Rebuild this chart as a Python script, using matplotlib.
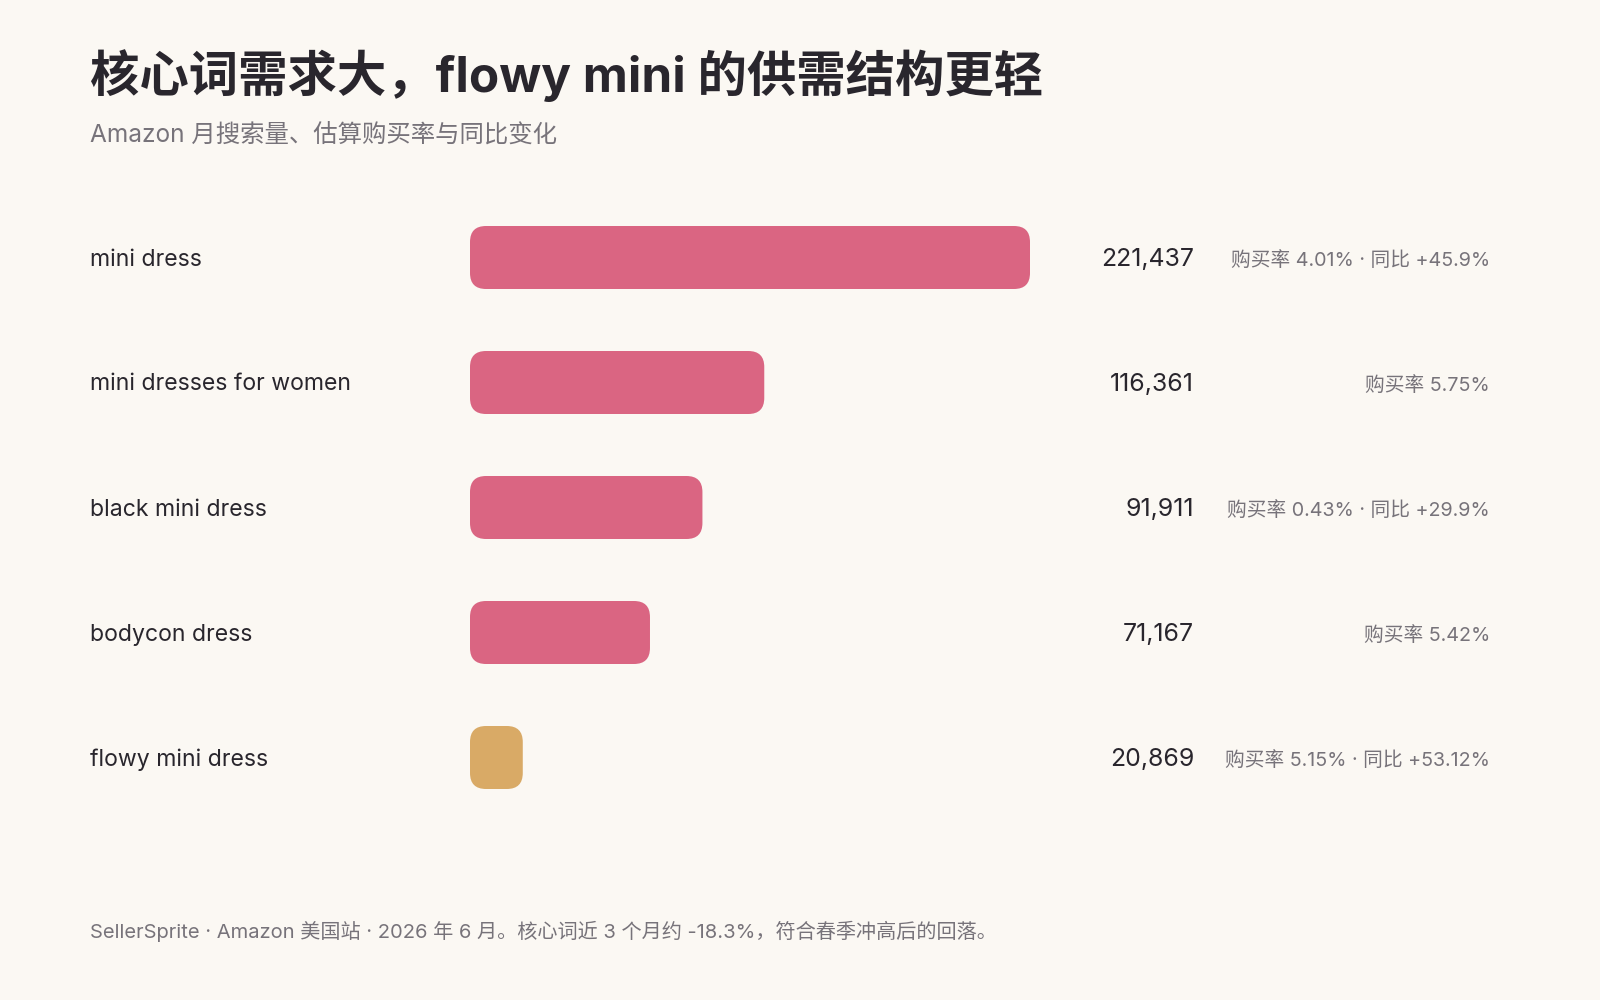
import matplotlib
matplotlib.use("Agg")
import matplotlib.pyplot as plt
from matplotlib.patches import FancyBboxPatch
from matplotlib.transforms import blended_transform_factory

plt.rcParams['font.family'] = ['Inter', 'Noto Sans CJK SC', 'DejaVu Sans']

# ---- data ----
keywords = ["mini dress", "mini dresses for women", "black mini dress",
            "bodycon dress", "flowy mini dress"]
searches = [221437, 116361, 91911, 71167, 20869]
notes = ["购买率 4.01% · 同比 +45.9%", "购买率 5.75%", "购买率 0.43% · 同比 +29.9%",
         "购买率 5.42%", "购买率 5.15% · 同比 +53.12%"]
highlight = "flowy mini dress"

title = "核心词需求大，flowy mini 的供需结构更轻"
subtitle = "Amazon 月搜索量、估算购买率与同比变化"
footer = "SellerSprite · Amazon 美国站 · 2026 年 6 月。核心词近 3 个月约 -18.3%，符合春季冲高后的回落。"

BG = "#fbf8f3"
PINK = "#da6582"
GOLD = "#d9aa66"
DARK = "#29262d"
GRAY = "#77737a"

W, H = 1600, 1000
fig = plt.figure(figsize=(16, 10), dpi=100, facecolor=BG)

ax_left, ax_w = 470, 560
ax_top, ax_h = 195, 625
ax = fig.add_axes([ax_left / W, 1 - (ax_top + ax_h) / H, ax_w / W, ax_h / H])
ax.set_facecolor(BG)
ax.set_xlim(0, max(searches))
ax.set_ylim(len(keywords) - 0.5, -0.5)
ax.axis("off")

bar_h = 0.504
x_per_px = max(searches) / ax_w
y_per_px = len(keywords) / ax_h
radius_px = 16
for i, (k, v) in enumerate(zip(keywords, searches)):
    color = GOLD if k == highlight else PINK
    p = FancyBboxPatch((0, i - bar_h / 2), v, bar_h,
                       boxstyle=f"round,pad=0,rounding_size={radius_px * x_per_px}",
                       mutation_aspect=y_per_px / x_per_px,
                       facecolor=color, edgecolor="none")
    ax.add_patch(p)

tr = blended_transform_factory(fig.transFigure, ax.transData)
dy_label = 2 * y_per_px
dy_note = 3 * y_per_px
for i, (k, v, n) in enumerate(zip(keywords, searches, notes)):
    ax.text(90 / W, i + dy_label, k, transform=tr, ha="left", va="center",
            fontsize=16.6, color=DARK)
    ax.text(1194 / W, i + dy_label, f"{v:,}", transform=tr, ha="right", va="center",
            fontsize=17.9, color=DARK)
    ax.text(1490 / W, i + dy_note, n, transform=tr, ha="right", va="center",
            fontsize=14.2, color=GRAY)

fig.text(90 / W, 1 - 76 / H, title, ha="left", va="center",
         fontsize=35.6, fontweight="bold", color=DARK)
fig.text(90 / W, 1 - 135 / H, subtitle, ha="left", va="center",
         fontsize=17.6, color=GRAY)
fig.text(90 / W, 1 - 931 / H, footer, ha="left", va="center",
         fontsize=14.5, color=GRAY)

fig.savefig("out.png", dpi=100, facecolor=BG)
